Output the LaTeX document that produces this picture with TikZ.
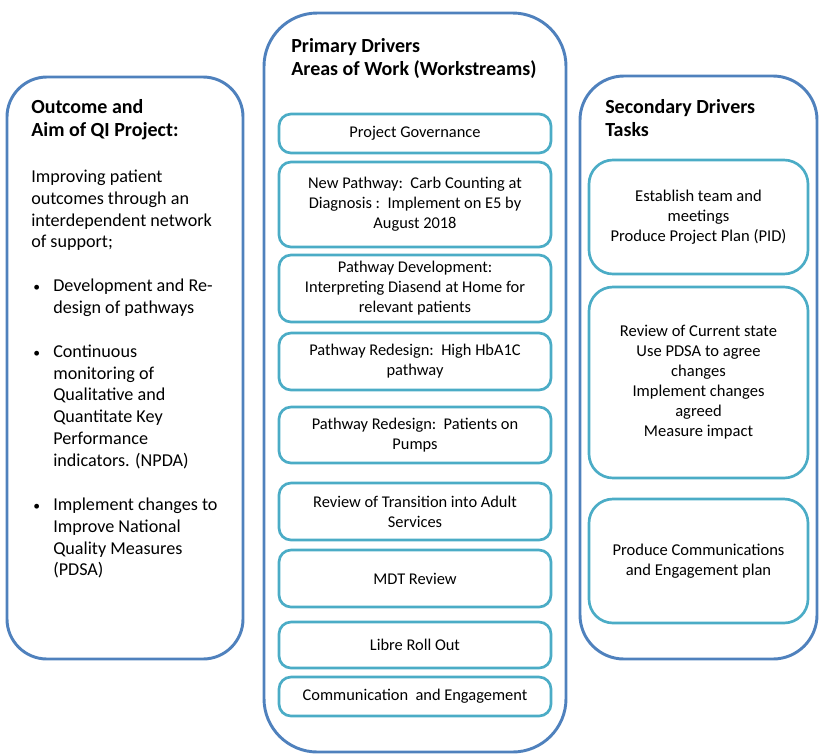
\documentclass[tikz,border=0pt]{standalone}
\usepackage{fontspec}
\setmainfont{Carlito}
\usetikzlibrary{positioning}

\definecolor{columnblue}{RGB}{79,129,189}
\definecolor{taskteal}{RGB}{75,172,198}

\newcommand{\bitem}{\makebox[16.5pt][l]{\hspace{1.5pt}\scalebox{0.75}{\textbullet}}}
\newcommand{\bcont}{\hspace{16.5pt}}

\tikzset{
    column/.style={draw=columnblue, line width=2.2pt, rounded corners=#1, inner sep=0pt},
    stream/.style={draw=taskteal, line width=2pt, rounded corners=9pt, minimum width=204pt, align=center, inner sep=0pt, font=\fontsize{12.3}{15}\selectfont},
    task/.style={draw=taskteal, line width=2pt, rounded corners=18pt, minimum width=164.25pt, align=center, inner sep=0pt, font=\fontsize{12.4}{15}\selectfont},
    heading/.style={anchor=north west, inner sep=0pt, align=left, font=\fontsize{15}{17.5}\selectfont\bfseries}
}

\begin{document}
\begin{tikzpicture}[x=0.75pt, y=-0.75pt]
        \useasboundingbox (0,0) rectangle (824,754);

        % the three columns
        \node[column=30pt, minimum width=177pt, minimum height=436.5pt] (aim) at (125,368) {};
        \node[column=40pt, minimum width=226.5pt, minimum height=554.25pt] (primary) at (415,382.5) {};
        \node[column=33pt, minimum width=177.75pt, minimum height=437.25pt] (secondary) at (698.5,367.5) {};

        % headings
        \node[heading] (aimhead) at (31,96.7) {\strut Outcome and\\Aim of QI Project:};
        \node[heading] (primaryhead) at (291,35.7) {\strut Primary Drivers\\Areas of Work (Workstreams)};
        \node[heading] (secondaryhead) at (605,96.7) {\strut Secondary Drivers\\Tasks};

        % outcome text
        \node[anchor=north west, inner sep=0pt, align=left, font=\fontsize{13.6}{16.4}\selectfont] (aimtext) at (31,166.7) {\strut Improving patient\\
            outcomes through an\\
            interdependent network\\
            of support;\\[16.4pt]
            \bitem Development and Re-\\
            \bcont design of pathways\\[16.4pt]
            \bitem Continuous\\
            \bcont monitoring of\\
            \bcont Qualitative and\\
            \bcont Quantitate Key\\
            \bcont Performance\\
            \bcont indicators. (NPDA)\\[16.4pt]
            \bitem Implement changes to\\
            \bcont Improve National\\
            \bcont Quality Measures\\
            \bcont (PDSA)};

        % workstreams
        \node[stream, minimum height=29.25pt] (governance) at (415,133.5) {Project Governance};
        \node[stream, minimum height=63.75pt] (carb) at (415,204.5) {New Pathway:\ \ Carb Counting at\\Diagnosis :\ \ Implement on E5 by\\August 2018};
        \node[stream, minimum height=50.25pt] (diasend) at (415,288.5) {Pathway Development:\\Interpreting Diasend at Home for\\relevant patients};
        \node[stream, minimum height=42.75pt] (hba) at (415,361.5) {Pathway Redesign:\ \ High HbA1C\\pathway};
        \node[stream, minimum height=42pt] (pumps) at (415,435) {Pathway Redesign:\ \ Patients on\\Pumps};
        \node[stream, minimum height=42.75pt] (transition) at (415,511.5) {Review of Transition into Adult\\Services};
        \node[stream, minimum height=42.75pt] (mdt) at (415,578.5) {MDT Review};
        \node[stream, minimum height=34.5pt] (libre) at (415,645) {Libre Roll Out};
        \node[stream, minimum height=29.25pt] (communication) at (415,696.5) {Communication\ \ and Engagement};

        % tasks
        \node[task, minimum height=85.5pt] (team) at (698.5,217) {Establish team and\\meetings\\Produce Project Plan (PID)};
        \node[task, minimum height=143.25pt] (review) at (698.5,382.5) {Review of Current state\\Use PDSA to agree\\changes\\Implement changes\\agreed\\Measure impact};
        \node[task, minimum height=93pt] (plan) at (698.5,561) {Produce Communications\\and Engagement plan};

    \end{tikzpicture}
\end{document}
